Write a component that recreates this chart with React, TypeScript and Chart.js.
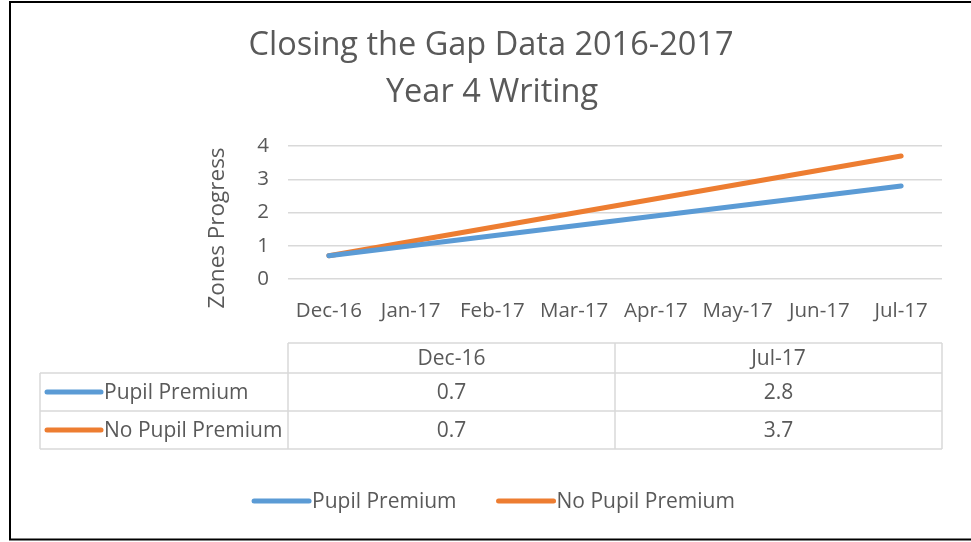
import React, { useEffect, useRef } from "react";
import { Chart, registerables } from "chart.js";

Chart.register(...registerables);

const months = ["Dec-16", "Jan-17", "Feb-17", "Mar-17", "Apr-17", "May-17", "Jun-17", "Jul-17"];
const tableDates = ["Dec-16", "Jul-17"];
const pupilPremium = [0.7, 2.8];
const noPupilPremium = [0.7, 3.7];
const seriesNames = ["Pupil Premium", "No Pupil Premium"];
const seriesColors = ["#5b9bd5", "#ed7d31"];
const titleLines = ["Closing the Gap Data 2016-2017", "Year 4 Writing"];
const yTitle = "Zones Progress";

const FONT = "'Open Sans', sans-serif";
const TEXT = "#595959";
const GRID = "#d9d9d9";

const toPoints = (vals: number[]) =>
  vals.map((v, i) => ({ x: months.indexOf(tableDates[i]), y: v }));

const decorPlugin = {
  id: "decor",
  afterDraw(chart: any) {
    const ctx = chart.ctx as CanvasRenderingContext2D;
    const area = chart.chartArea;
    ctx.save();
    // outer border
    ctx.strokeStyle = "#000";
    ctx.lineWidth = 2;
    ctx.strokeRect(10, 2, 1000, 537.5);

    // title
    ctx.fillStyle = TEXT;
    ctx.textAlign = "center";
    ctx.textBaseline = "middle";
    ctx.font = `32.5px ${FONT}`;
    ctx.fillText(titleLines[0], 491, 46);
    ctx.fillText(titleLines[1], 492, 93);

    // y axis title
    ctx.save();
    ctx.translate(218, (area.top + 310) / 2);
    ctx.rotate(-Math.PI / 2);
    ctx.font = `22.5px ${FONT}`;
    ctx.fillText(yTitle, 0, 0);
    ctx.restore();

    // data table
    const L = area.left;
    const R = area.right;
    const M = (L + R) / 2;
    const left0 = 40;
    const yTop = 343;
    const yH = 373;
    const y1 = 411;
    const y2 = 449;
    const dy = 1.5;
    ctx.strokeStyle = GRID;
    ctx.lineWidth = 1.5;
    ctx.beginPath();
    ctx.moveTo(L, yTop); ctx.lineTo(R, yTop);
    ctx.moveTo(left0, yH); ctx.lineTo(R, yH);
    ctx.moveTo(left0, y1); ctx.lineTo(R, y1);
    ctx.moveTo(left0, y2); ctx.lineTo(R, y2);
    ctx.moveTo(left0, yH); ctx.lineTo(left0, y2);
    ctx.moveTo(L, yTop); ctx.lineTo(L, y2);
    ctx.moveTo(M, yTop); ctx.lineTo(M, y2);
    ctx.moveTo(R, yTop); ctx.lineTo(R, y2);
    ctx.stroke();

    ctx.font = `21px ${FONT}`;
    ctx.fillStyle = TEXT;
    ctx.textAlign = "center";
    const cols = [(L + M) / 2, (M + R) / 2];
    tableDates.forEach((d, i) => ctx.fillText(d, cols[i], (yTop + yH) / 2 + dy));
    const rows = [pupilPremium, noPupilPremium];
    const rowY = [(yH + y1) / 2, (y1 + y2) / 2];
    rows.forEach((vals, r) => {
      vals.forEach((v, i) => ctx.fillText(v.toFixed(1), cols[i], rowY[r] + dy));
      ctx.strokeStyle = seriesColors[r];
      ctx.lineWidth = 5;
      ctx.lineCap = "round";
      ctx.beginPath();
      ctx.moveTo(47, rowY[r]);
      ctx.lineTo(101, rowY[r]);
      ctx.stroke();
      ctx.textAlign = "left";
      ctx.fillText(seriesNames[r], 104, rowY[r] + dy);
      ctx.textAlign = "center";
    });

    // bottom legend
    const keyW = 56;
    const gapText = 3;
    const gapItem = 41;
    const widths = seriesNames.map((n) => ctx.measureText(n).width);
    const total = widths.reduce((a, w) => a + keyW + gapText + w, 0) + gapItem;
    let x = 494 - total / 2;
    const ly = 501;
    seriesNames.forEach((n, i) => {
      ctx.strokeStyle = seriesColors[i];
      ctx.lineWidth = 5;
      ctx.lineCap = "round";
      ctx.beginPath();
      ctx.moveTo(x + 1, ly);
      ctx.lineTo(x + keyW, ly);
      ctx.stroke();
      ctx.textAlign = "left";
      ctx.fillText(n, x + keyW + gapText, ly + dy);
      x += keyW + gapText + widths[i] + gapItem;
    });
    ctx.restore();
  },
};

export default function App() {
  const ref = useRef<HTMLCanvasElement | null>(null);
  useEffect(() => {
    if (!ref.current) return;
    const chart = new Chart(ref.current, {
      type: "line",
      data: {
        datasets: [
          {
            label: seriesNames[0],
            data: toPoints(pupilPremium),
            borderColor: seriesColors[0],
            backgroundColor: seriesColors[0],
            borderWidth: 5,
            pointRadius: 0,
            borderCapStyle: "round",
          },
          {
            label: seriesNames[1],
            data: toPoints(noPupilPremium),
            borderColor: seriesColors[1],
            backgroundColor: seriesColors[1],
            borderWidth: 5,
            pointRadius: 0,
            borderCapStyle: "round",
          },
        ],
      },
      options: {
        animation: false,
        responsive: false,
        layout: { padding: { top: 146, right: 29, left: 0, bottom: 0 } },
        plugins: { legend: { display: false }, title: { display: false }, tooltip: { enabled: false } },
        scales: {
          x: {
            type: "linear",
            min: -0.5,
            max: months.length - 0.5,
            grid: { display: false, drawTicks: false },
            border: { display: false },
            afterBuildTicks: (scale: any) => {
              scale.ticks = months.map((_, i) => ({ value: i }));
            },
            afterFit: (scale: any) => {
              scale.height = 542 - 279;
            },
            ticks: {
              autoSkip: false,
              maxRotation: 0,
              padding: 20,
              color: TEXT,
              font: { family: "'Open Sans', sans-serif", size: 20.5 },
              callback: (v: any) => months[v as number] ?? "",
            },
          },
          y: {
            min: 0,
            max: 4,
            grid: { color: GRID, lineWidth: 1.5, drawTicks: false },
            border: { display: false },
            afterFit: (scale: any) => {
              scale.width = 288;
            },
            ticks: {
              stepSize: 1,
              padding: 19,
              color: TEXT,
              font: { family: "'Open Sans', sans-serif", size: 20.5 },
            },
          },
        },
      },
      plugins: [decorPlugin],
    });
    return () => chart.destroy();
  }, []);
  return (
    <div style={{ position: "fixed", left: 0, top: 0, width: 971, height: 542, background: "#fff" }}>
      <canvas ref={ref} width={971} height={542} style={{ display: "block" }} />
    </div>
  );
}
